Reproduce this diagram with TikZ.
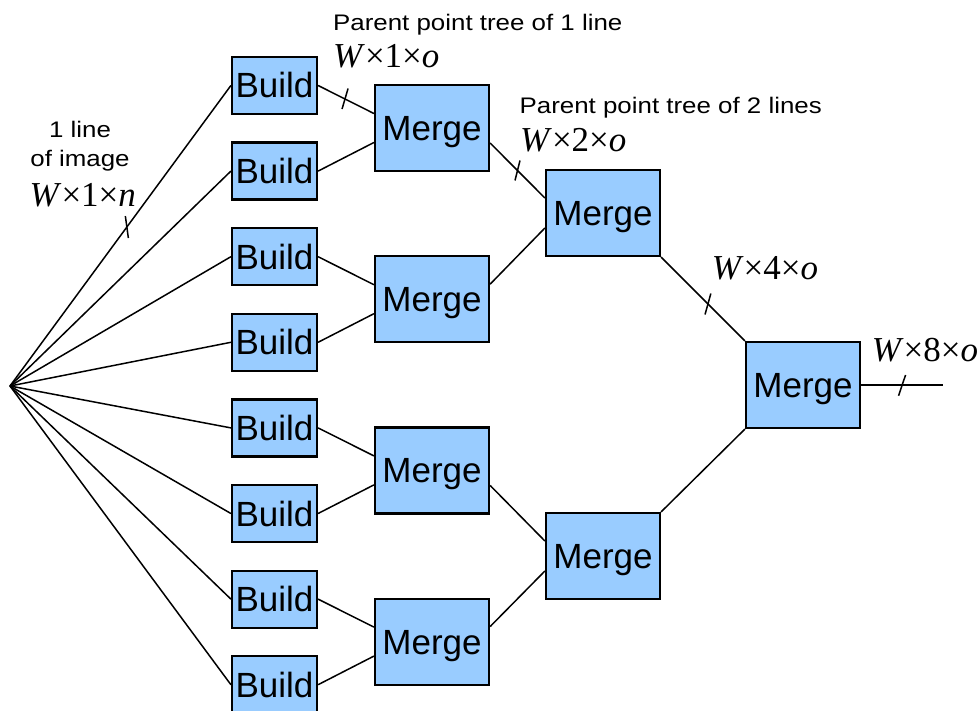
\documentclass[tikz,border=0pt]{standalone}
\usepackage{fontspec}
\setmainfont{Liberation Sans}
\newfontfamily\serifmath{Liberation Serif}
\usetikzlibrary{calc}
\definecolor{boxblue}{RGB}{153,204,255}
% dimension label such as W x 1 x o
\newcommand{\dimtext}[2]{{\serifmath\fontsize{35}{40}\selectfont\textit{W}×#1×\textit{#2}}}
% small caption text, slightly widened
\newcommand{\smalltext}[1]{{\fontsize{22.5}{26}\selectfont\scalebox{1.15}[1]{#1}}}

\begin{document}
\begin{tikzpicture}[x=1pt,y=-1pt,
  box/.style={draw=black,line width=2.2pt,fill=boxblue,inner sep=0pt,
    font=\fontsize{35}{40}\selectfont,text height=25pt,text depth=0pt},
  buildbox/.style={box,minimum width=85pt,minimum height=57pt},
  mergebox/.style={box,minimum width=114pt,minimum height=86pt},
  wire/.style={line width=1.5pt},
  lbl/.style={inner sep=0pt,anchor=base west},
  clbl/.style={inner sep=0pt,anchor=base}]

\useasboundingbox (0,0) rectangle (980,711);
\clip (0,0) rectangle (980,711);

% image line source
\coordinate (src) at (10,386);

% build stage
\foreach \i in {1,...,8}
  \node[buildbox] (b\i) at (274.5,{85.5+85.6*(\i-1)}) {Build};

% merge stages
\foreach \j in {1,...,4}
  \node[mergebox] (m\j) at (432,{128+171.2*(\j-1)}) {Merge};
\node[mergebox] (n1) at (603,213) {Merge};
\node[mergebox] (n2) at (603,556) {Merge};
\node[mergebox] (r) at (803,385) {Merge};
\coordinate (out) at (943,385);

% fan out from the source to every build box
\draw[wire] (src) -- (b1.west) coordinate[pos=0.529] (t1);
\foreach \i in {2,...,8}
  \draw[wire] (src) -- (b\i.west);

% build -> first merge level
\draw[wire] (b1.east) -- ([yshift=14.5pt]m1.west) coordinate[pos=0.483] (t2);
\draw[wire] (b2.east) -- ([yshift=-14.5pt]m1.west);
\foreach \j/\a/\b in {2/3/4,3/5/6,4/7/8} {
  \draw[wire] (b\a.east) -- ([yshift=14.5pt]m\j.west);
  \draw[wire] (b\b.east) -- ([yshift=-14.5pt]m\j.west);
}

% first merge level -> second merge level
\draw[wire] ([yshift=-15pt]m1.east) -- ([yshift=15pt]n1.west) coordinate[pos=0.5] (t3);
\draw[wire] ([yshift=15pt]m2.east) -- ([yshift=-15pt]n1.west);
\draw[wire] ([yshift=-15pt]m3.east) -- ([yshift=15pt]n2.west);
\draw[wire] ([yshift=15pt]m4.east) -- ([yshift=-15pt]n2.west);

% second merge level -> final merge
\draw[wire] (n1.south east) -- (r.north west) coordinate[pos=0.56] (t4);
\draw[wire] (n2.north east) -- (r.south west);

% output
\draw[wire] (r.east) -- (out) coordinate[pos=0.5] (t5);

% bus width ticks
\draw[wire] (t1) ++(-1.5,-11) -- ++(3,22);
\draw[wire] (t2) ++(3,-10.5) -- ++(-6,20.5);
\draw[wire] (t3) ++(2.5,-10) -- ++(-5,20);
\draw[wire] (t4) ++(2.8,-10.5) -- ++(-5.8,21);
\draw[wire] (t5) ++(3.5,-10) -- ++(-7,20.7);

% labels
\node[lbl] (lp1) at (333,31) {\smalltext{Parent point tree of 1 line}};
\node[lbl] (d1) at (333,68) {\dimtext{1}{o}};
\node[clbl] (li1) at (80,138) {\smalltext{1 line}};
\node[clbl] (li2) at (80,166.5) {\smalltext{of image}};
\node[lbl] (dn) at (29.5,206.7) {\dimtext{1}{n}};
\node[lbl] (lp2) at (519.5,114) {\smalltext{Parent point tree of 2 lines}};
\node[lbl] (d2) at (520,151.7) {\dimtext{2}{o}};
\node[lbl] (d4) at (711.7,280) {\dimtext{4}{o}};
\node[lbl] (d8) at (871.7,361.7) {\dimtext{8}{o}};
\end{tikzpicture}
\end{document}
